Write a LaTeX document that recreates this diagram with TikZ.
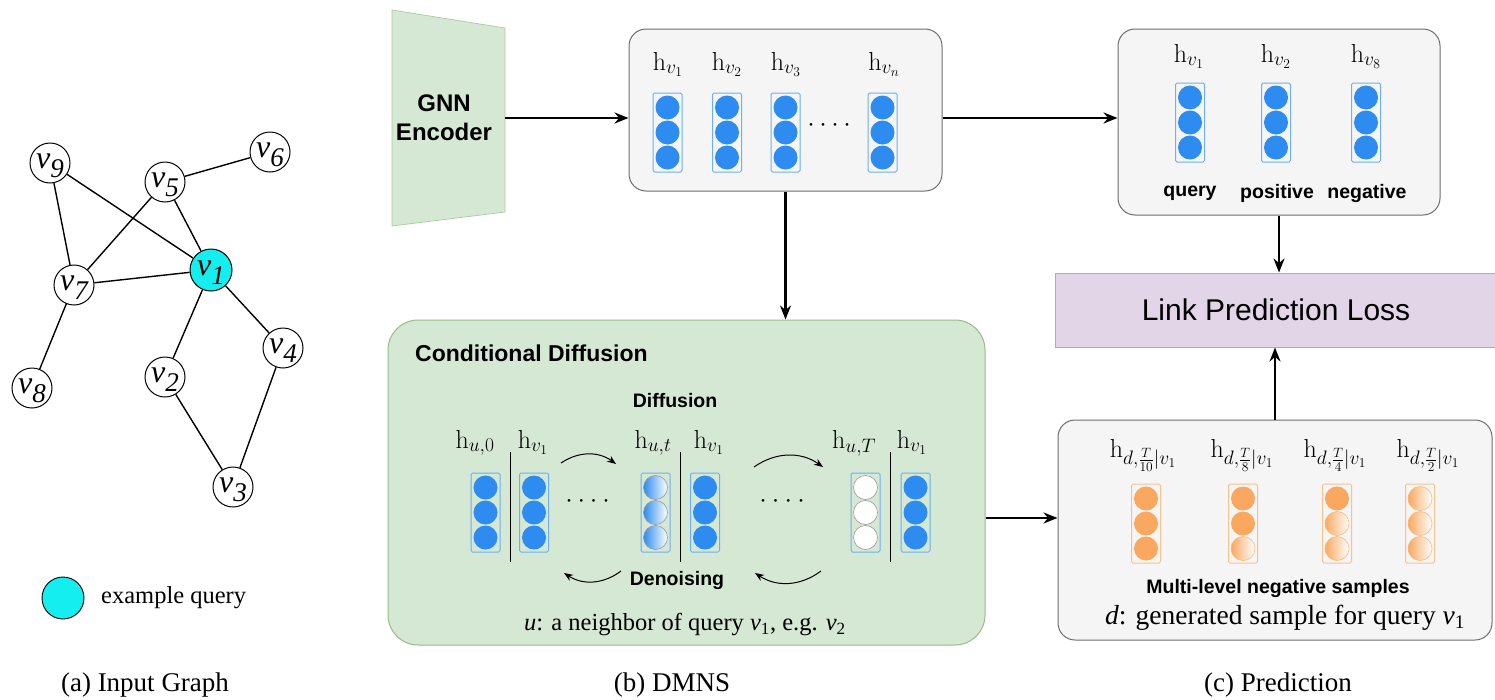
\RequirePackage{fix-cm}
\documentclass[tikz,border=0pt]{standalone}
\usepackage{fontspec}
\newfontfamily\tms{Liberation Serif}
\newfontfamily\ars{Liberation Sans}
\usetikzlibrary{arrows.meta}
\DeclareMathSizes{26}{26}{19.5}{13.5}
\newcommand\fs[2]{\fontsize{#1}{#2}\selectfont}
\definecolor{blu}{RGB}{46,140,240}
\definecolor{blurect}{RGB}{110,175,240}
\definecolor{org}{RGB}{250,168,95}
\definecolor{orgrect}{RGB}{245,195,140}
\definecolor{cyn}{RGB}{20,238,238}
\definecolor{gfill}{RGB}{213,232,212}
\definecolor{gline}{RGB}{150,190,130}
\definecolor{grfill}{RGB}{245,245,245}
\definecolor{grline}{RGB}{110,110,110}
\definecolor{lfill}{RGB}{225,213,231}
\definecolor{lline}{RGB}{185,165,195}
\newcommand\vl[1]{\raisebox{-5pt}[0pt][0pt]{\makebox[0pt]{\tms\itshape\fs{32}{32}v\raisebox{-9pt}{\fs{27}{27}#1}}}}
\newcommand\ecol[6]{%
  \draw[#3] ({#1-14.5},{#2-39.5}) rectangle ({#1+14.5},{#2+39.5});
  \path[#4] (#1,{#2-25}) circle[radius=12pt];
  \path[#5] (#1,#2) circle[radius=12pt];
  \path[#6] (#1,{#2+25}) circle[radius=12pt];}
\newcommand\onedot{\makebox[0pt]{\textperiodcentered}}
\newcommand\fdots[1]{\makebox[#1]{\onedot\hfill\onedot\hfill\onedot\hfill\onedot}}
\begin{document}
\begin{tikzpicture}[x=1pt,y=-1pt,
  gn/.style={circle, draw, line width=1pt, minimum size=40pt, inner sep=0pt, fill=white},
  edge/.style={line width=1.4pt},
  arr/.style={line width=2.2pt, -{Stealth[length=14pt,width=11pt]}},
  carr/.style={line width=1pt, -{Stealth[length=9pt,width=7pt]}},
  gbox/.style={draw=grline, fill=grfill, rounded corners=17pt, line width=1pt},
  brect/.style={draw=blurect, line width=1pt, rounded corners=1.5pt},
  orect/.style={draw=orgrect, line width=1pt, rounded corners=1.5pt},
  fb/.style={fill=blu},
  gb/.style={left color=blu, right color=white, draw=gray!80, line width=0.6pt},
  wb/.style={fill=white, draw=gray!80, line width=0.6pt},
  fo/.style={fill=org},
  go/.style={left color=org, right color=white, draw=org!80, line width=0.6pt},
  mlab/.style={anchor=base, inner sep=0pt, font=\fs{26}{30}},
  dotl/.style={font=\fs{34}{34}, inner sep=0pt},
  bsf/.style={font=\ars\bfseries\fs{19.5}{23}},
  captxt/.style={font=\tms\fs{27}{32}}
]
\useasboundingbox (0,0) rectangle (1495,699);
\fill[white] (0,0) rectangle (1495,699);

% ---------- (a) input graph ----------
\node[gn] (v9) at (50,163) {\vl{9}};
\node[gn] (v6) at (270,152) {\vl{6}};
\node[gn] (v5) at (165,182) {\vl{5}};
\node[gn, fill=cyn, minimum size=42pt] (v1) at (211,270) {\vl{1}};
\node[gn] (v7) at (74,285) {\vl{7}};
\node[gn] (v4) at (283,348) {\vl{4}};
\node[gn] (v8) at (32,388) {\vl{8}};
\node[gn] (v2) at (165,377) {\vl{2}};
\node[gn] (v3) at (233,487) {\vl{3}};
\draw[edge] (v9) -- (v7);
\draw[edge] (v9) -- (v1);
\draw[edge] (v5) -- (v6);
\draw[edge] (v5) -- (v1);
\draw[edge] (v5) -- (v7);
\draw[edge] (v7) -- (v1);
\draw[edge] (v7) -- (v8);
\draw[edge] (v1) -- (v2);
\draw[edge] (v1) -- (v4);
\draw[edge] (v2) -- (v3);
\draw[edge] (v4) -- (v3);
\node[circle, draw, line width=0.9pt, fill=cyn, minimum size=42pt, inner sep=0pt] (leg) at (63,598) {};
\node[anchor=west, font=\tms\fs{24.5}{28}, inner sep=0pt] (legt) at (101,598) {example query};
\node[captxt] (capa) at (145,685) {(a) Input Graph};

% ---------- (b) DMNS ----------
\fill[gfill] (392,10) -- (505,28) -- (505,212) -- (392,226) -- cycle;
\draw[gline!80, line width=0.7pt] (392,10) -- (505,28) -- (505,212) -- (392,226) -- cycle;
\node[font=\ars\bfseries\fs{24}{29}, align=center] (gnn) at (444,118) {GNN\\Encoder};
\coordinate (gnnR) at (505,118);

\node[gbox, minimum width=313pt, minimum height=162pt] (emb) at (785.5,110) {};
\node[mlab] (e1) at (668,70) {$\mathrm{h}_{v_1}$};
\node[mlab] (e2) at (727,70) {$\mathrm{h}_{v_2}$};
\node[mlab] (e3) at (786,70) {$\mathrm{h}_{v_3}$};
\node[mlab] (en) at (884,70) {$\mathrm{h}_{v_n}$};
\ecol{667.5}{132.5}{brect}{fb}{fb}{fb}
\ecol{727}{132.5}{brect}{fb}{fb}{fb}
\ecol{785.5}{132.5}{brect}{fb}{fb}{fb}
\ecol{882.5}{132.5}{brect}{fb}{fb}{fb}
\node[dotl] (dots1) at (829,130) {\fdots{36pt}};

\node[draw=gline, fill=gfill, rounded corners=30pt, line width=1pt, minimum width=597pt, minimum height=325pt] (diff) at (686.5,482.5) {};
\node[anchor=west, font=\ars\bfseries\fs{23}{27}, inner sep=0pt] (cdt) at (415,353) {Conditional Diffusion};
\node[bsf] (dlab) at (675,401) {Diffusion};
\node[bsf] (nlab) at (677,580) {Denoising};
\node[mlab] (d1) at (475,448) {$\mathrm{h}_{u,0}$};
\node[mlab] (d2) at (533,448) {$\mathrm{h}_{v_1}$};
\node[mlab] (d3) at (653,448) {$\mathrm{h}_{u,t}$};
\node[mlab] (d4) at (709,448) {$\mathrm{h}_{v_1}$};
\node[mlab] (d5) at (854,448) {$\mathrm{h}_{u,T}$};
\node[mlab] (d6) at (912,448) {$\mathrm{h}_{v_1}$};
\draw[line width=1pt] (510,452) -- (510,562);
\draw[line width=1pt] (680,452) -- (680,562);
\draw[line width=1pt] (890,452) -- (890,562);
\ecol{485.5}{512.5}{brect}{fb}{fb}{fb}
\ecol{534}{512.5}{brect}{fb}{fb}{fb}
\ecol{655.5}{512.5}{brect}{gb}{gb}{gb}
\ecol{705}{512.5}{brect}{fb}{fb}{fb}
\ecol{865.5}{512.5}{brect}{wb}{wb}{wb}
\ecol{915.5}{512.5}{brect}{fb}{fb}{fb}
\node[dotl] (dots2) at (587.5,506) {\fdots{37pt}};
\node[dotl] (dots3) at (782,506) {\fdots{38pt}};
\coordinate (fa1) at (561,463);
\coordinate (fb1) at (616,464);
\coordinate (fa2) at (754,467);
\coordinate (fb2) at (823,467);
\coordinate (ra1) at (621,571);
\coordinate (rb1) at (564,573);
\coordinate (ra2) at (821,571);
\coordinate (rb2) at (755,573);
\draw[carr] (fa1) to[bend left=35] (fb1);
\draw[carr] (fa2) to[bend left=35] (fb2);
\draw[carr] (ra1) to[bend left=35] (rb1);
\draw[carr] (ra2) to[bend left=35] (rb2);
\node[font=\tms\fs{24.5}{28}] (ulab) at (685,625) {\textit{u}: a neighbor of query \textit{v}\textsubscript{1}, e.g. \textit{v}\textsubscript{2}};
\node[captxt] (capb) at (672,685) {(b) DMNS};

% ---------- (c) prediction ----------
\node[gbox, minimum width=322pt, minimum height=186pt] (pred) at (1279,122) {};
\node[mlab] (p1) at (1189,62) {$\mathrm{h}_{v_1}$};
\node[mlab] (p2) at (1276,62) {$\mathrm{h}_{v_2}$};
\node[mlab] (p3) at (1366,62) {$\mathrm{h}_{v_8}$};
\ecol{1190}{122.5}{brect}{fb}{fb}{fb}
\ecol{1276}{122.5}{brect}{fb}{fb}{fb}
\ecol{1366}{122.5}{brect}{fb}{fb}{fb}
\node[bsf] (ql) at (1190,193) {query};
\node[bsf] (pl) at (1277,193) {positive};
\node[bsf] (nl) at (1367,193) {negative};

\node[draw=lline, fill=lfill, line width=1pt, minimum width=442pt, minimum height=74pt, font=\ars\fs{30}{36}] (lpl) at (1276,310) {Link Prediction Loss};

\node[gbox, minimum width=434pt, minimum height=220pt] (neg) at (1275,530) {};
\node[mlab] (n1) at (1143,457) {$\mathrm{h}_{d,\frac{T}{10}|v_1}$};
\node[mlab] (n2) at (1242,457) {$\mathrm{h}_{d,\frac{T}{8}|v_1}$};
\node[mlab] (n3) at (1335,457) {$\mathrm{h}_{d,\frac{T}{4}|v_1}$};
\node[mlab] (n4) at (1428,457) {$\mathrm{h}_{d,\frac{T}{2}|v_1}$};
\ecol{1146}{523.5}{orect}{fo}{fo}{fo}
\ecol{1243}{523.5}{orect}{fo}{fo}{go}
\ecol{1337}{523.5}{orect}{fo}{go}{go}
\ecol{1420}{523.5}{orect}{go}{go}{go}
\node[bsf] (mls) at (1278,588) {Multi-level negative samples};
\node[font=\tms\fs{27.5}{32}] (dlab2) at (1285,618) {\textit{d}: generated sample for query \textit{v}\textsubscript{1}};
\node[captxt] (capc) at (1278,685) {(c) Prediction};

% ---------- connectors ----------
\draw[arr] (gnnR) -- (gnnR -| emb.west);
\draw[arr] (gnnR -| emb.east) -- (gnnR -| pred.west);
\draw[arr] (emb.south) -- (emb.south |- diff.north);
\draw[arr] (pred.south) -- (pred.south |- lpl.north);
\draw[arr] (neg.north) -- (neg.north |- lpl.south);
\coordinate (dn) at (985,518);
\draw[arr] (dn -| diff.east) -- (dn -| neg.west);
\end{tikzpicture}
\end{document}
